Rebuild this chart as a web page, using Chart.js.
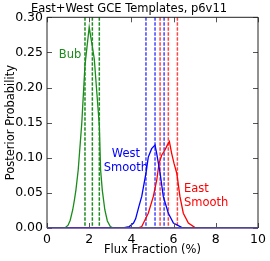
<!DOCTYPE html>
<html>
<head>
<meta charset="utf-8">
<script src="https://cdn.jsdelivr.net/npm/chart.js@4/dist/chart.umd.min.js"></script>
<style>
  html, body { margin: 0; padding: 0; background: #fff; }
  #wrap { width: 270px; height: 261px; }
</style>
</head>
<body>
<div id="wrap"><canvas id="chart" width="270" height="261"></canvas></div>
<script>
// values
const bubX = [0, 0.85, 1.0, 1.1, 1.22, 1.3, 1.37, 1.48, 1.65, 1.8, 2.0, 2.24, 2.48, 2.54, 2.62, 2.74, 2.86, 3.0, 3.15, 10];
const bubY = [0, 0, 0.004, 0.011, 0.026, 0.04, 0.054, 0.083, 0.15, 0.232, 0.286, 0.241, 0.146, 0.083, 0.054, 0.026, 0.01, 0.002, 0, 0];

const westX = [0, 3.6, 3.9, 4.1, 4.2, 4.35, 4.49, 4.69, 4.8, 4.96, 5.12, 5.2, 5.36, 5.51, 5.75, 5.99, 6.38, 6.6, 10];
const westY = [0, 0, 0.002, 0.007, 0.013, 0.03, 0.045, 0.078, 0.101, 0.113, 0.118, 0.106, 0.078, 0.045, 0.021, 0.007, 0.001, 0, 0];

const eastX = [0, 4.3, 4.49, 4.8, 5.04, 5.2, 5.31, 5.44, 5.59, 5.7, 5.8, 5.91, 6.02, 6.15, 6.3, 6.46, 6.7, 7.0, 7.2, 10];
const eastY = [0, 0, 0.002, 0.021, 0.045, 0.068, 0.092, 0.104, 0.111, 0.118, 0.123, 0.106, 0.092, 0.078, 0.045, 0.021, 0.007, 0.001, 0, 0];

// dashed percentile lines (16/50/84)
const bubLines = [1.80, 2.15, 2.48];
const westLines = [4.69, 5.12, 5.55];
const eastLines = [5.36, 5.75, 6.18];

const xTicks = [0, 2, 4, 6, 8, 10];
const yTicks = [0, 0.05, 0.10, 0.15, 0.20, 0.25, 0.30];

const FONT = "'DejaVu Sans', sans-serif";

function pts(xs, ys) {
    return xs.map((x, i) => ({x: x, y: ys[i]}));
}

// vertical dashed lines, drawn before the curves
const dashPlugin = {
    id: 'dashes',
    beforeDatasetsDraw(chart) {
        const {ctx, chartArea, scales} = chart;
        ctx.save();
        ctx.lineWidth = 1.5;
        ctx.setLineDash([3.5, 1.5]);
        const groups = [[bubLines, '#1a8c1a'], [westLines, '#4444ff'], [eastLines, '#ff4444']];
        groups.forEach(g => {
            ctx.strokeStyle = g[1];
            g[0].forEach(v => {
                const px = scales.x.getPixelForValue(v);
                ctx.beginPath();
                ctx.moveTo(px, chartArea.top);
                ctx.lineTo(px, chartArea.bottom);
                ctx.stroke();
            });
        });
        ctx.restore();
    }
};

// box, inside ticks and the curve labels
const framePlugin = {
    id: 'frame',
    afterDatasetsDraw(chart) {
        const {ctx, chartArea: a, scales} = chart;
        ctx.save();
        ctx.lineWidth = 1;
        ctx.strokeStyle = '#555';
        xTicks.forEach(t => {
            const px = Math.round(scales.x.getPixelForValue(t)) + 0.5;
            ctx.beginPath();
            ctx.moveTo(px, a.bottom); ctx.lineTo(px, a.bottom - 5);
            ctx.moveTo(px, a.top); ctx.lineTo(px, a.top + 5);
            ctx.stroke();
        });
        yTicks.forEach(t => {
            const py = Math.round(scales.y.getPixelForValue(t)) + 0.5;
            ctx.beginPath();
            ctx.moveTo(a.left, py); ctx.lineTo(a.left + 5, py);
            ctx.moveTo(a.right, py); ctx.lineTo(a.right - 5, py);
            ctx.stroke();
        });
        ctx.strokeStyle = '#222';
        ctx.beginPath();
        ctx.moveTo(a.left, a.bottom); ctx.lineTo(a.left, a.top);
        ctx.lineTo(a.right, a.top); ctx.lineTo(a.right, a.bottom);
        ctx.stroke();
        ctx.strokeStyle = '#5b3f99';
        ctx.lineWidth = 1.5;
        ctx.beginPath();
        ctx.moveTo(a.left, a.bottom); ctx.lineTo(a.right, a.bottom);
        ctx.stroke();

        ctx.font = '11.5px ' + FONT;
        ctx.textBaseline = 'middle';
        const lab = (txt, x, y, col, align) => {
            ctx.fillStyle = col;
            ctx.textAlign = align;
            ctx.fillText(txt, scales.x.getPixelForValue(x), scales.y.getPixelForValue(y));
        };
        lab('Bub', 1.09, 0.246, '#1a8c1a', 'center');
        lab('West', 3.74, 0.105, '#0000ff', 'center');
        lab('Smooth', 3.74, 0.086, '#0000ff', 'center');
        lab('East', 6.49, 0.0555, '#ff0000', 'left');
        lab('Smooth', 6.49, 0.035, '#ff0000', 'left');
        ctx.restore();
    }
};

const lineStyle = {showLine: true, pointRadius: 0, borderWidth: 1.3, tension: 0, fill: false};

new Chart(document.getElementById('chart'), {
    type: 'scatter',
    data: {
        datasets: [
            Object.assign({label: 'Bub', data: pts(bubX, bubY), borderColor: '#1a8c1a'}, lineStyle),
            Object.assign({label: 'West Smooth', data: pts(westX, westY), borderColor: '#0000ff'}, lineStyle),
            Object.assign({label: 'East Smooth', data: pts(eastX, eastY), borderColor: '#ff0000'}, lineStyle)
        ]
    },
    options: {
        responsive: false,
        animation: false,
        layout: {padding: {left: 0, right: 12, top: 0, bottom: 0}},
        plugins: {
            legend: {display: false},
            tooltip: {enabled: false},
            title: {
                display: true,
                text: 'East+West GCE Templates, p6v11',
                color: '#000',
                font: {family: FONT, size: 11.5, weight: 'normal'},
                padding: {top: 2, bottom: 1.5}
            }
        },
        scales: {
            x: {
                type: 'linear',
                min: 0, max: 10,
                afterBuildTicks: s => { s.ticks = xTicks.map(v => ({value: v})); },
                afterFit: s => { s.height = 33; },
                grid: {display: true, drawOnChartArea: false, drawTicks: false},
                border: {display: false},
                ticks: {color: '#000', padding: 4, font: {family: FONT, size: 12.5}, maxRotation: 0},
                title: {display: true, text: 'Flux Fraction (%)', color: '#000',
                        font: {family: FONT, size: 11.5}, padding: {top: 0, bottom: 4}}
            },
            y: {
                type: 'linear',
                min: 0, max: 0.30,
                afterBuildTicks: s => { s.ticks = yTicks.map(v => ({value: v})); },
                afterFit: s => { s.width = 47; },
                grid: {display: true, drawOnChartArea: false, drawTicks: false},
                border: {display: false},
                ticks: {color: '#000', padding: 4, font: {family: FONT, size: 12.5},
                        callback: v => v.toFixed(2)},
                title: {display: true, text: 'Posterior Probability', color: '#000',
                        font: {family: FONT, size: 11.5}, padding: {top: 4, bottom: 0}}
            }
        }
    },
    plugins: [dashPlugin, framePlugin]
});
</script>
</body>
</html>
